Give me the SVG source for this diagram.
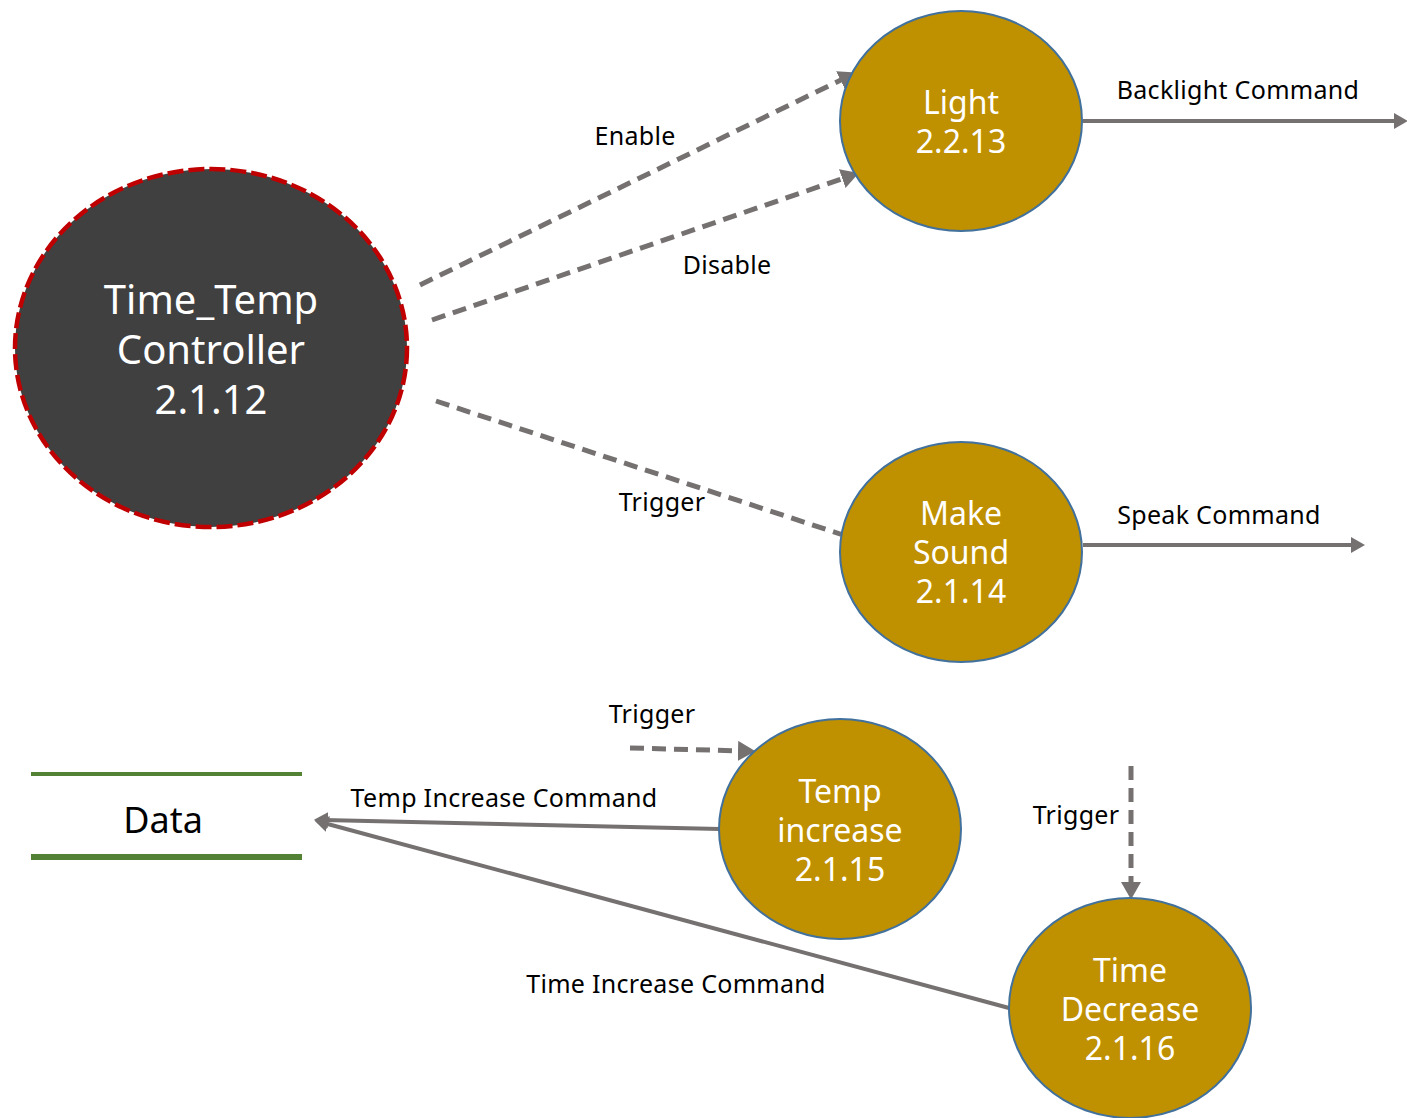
<svg xmlns="http://www.w3.org/2000/svg" width="1407" height="1118" viewBox="0 0 1407 1118">
<defs>
<marker id="ah" markerWidth="5" markerHeight="5" refX="1" refY="2" orient="auto" markerUnits="strokeWidth">
<path d="M0,0 L3.5,2 L0,4 Z" fill="#767171"/>
</marker>
<style>
.proc{fill:#BF9000;stroke:#41719C;stroke-width:2}
.nt{font-family:"Noto Sans","Open Sans",sans-serif;fill:#fff;text-anchor:middle}
.lbl{font-family:"Noto Sans","Open Sans",sans-serif;font-size:25px;letter-spacing:0.3px;fill:#000;text-anchor:middle}
.c{stroke:#767171;stroke-width:4;fill:none;marker-end:url(#ah)}
.d{stroke-width:5;stroke-dasharray:14,8}
</style>
</defs>
<rect width="1407" height="1118" fill="#fff"/>
<g id="connectors">
<line class="c d" x1="420" y1="285" x2="845" y2="78"/>
<line class="c d" x1="432" y1="320" x2="847" y2="177"/>
<line class="c d" x1="436" y1="401" x2="843" y2="535" style="marker-end:none"/>
<line class="c" x1="1083" y1="121" x2="1398" y2="121"/>
<line class="c" x1="1083" y1="545" x2="1355" y2="545"/>
<line class="c d" x1="630" y1="748" x2="743" y2="751"/>
<line class="c d" x1="1131" y1="766" x2="1131" y2="887"/>
<line class="c" x1="720" y1="829" x2="324" y2="820"/>
<line class="c" x1="1009" y1="1008" x2="324" y2="823"/>
<text class="lbl" x="635" y="145">Enable</text>
<text class="lbl" x="727" y="274">Disable</text>
<text class="lbl" x="662" y="511">Trigger</text>
<text class="lbl" x="1238" y="99">Backlight Command</text>
<text class="lbl" x="1219" y="524">Speak Command</text>
<text class="lbl" x="652" y="723">Trigger</text>
<text class="lbl" x="504" y="807">Temp Increase Command</text>
<text class="lbl" x="1076" y="824">Trigger</text>
<text class="lbl" x="676" y="993">Time Increase Command</text>
</g>
<g id="controller">
<ellipse cx="211" cy="348" rx="196" ry="179" fill="#404040" stroke="#C00000" stroke-width="4.5" stroke-dasharray="16,5"/>
<text class="nt" font-size="40" x="211" y="314">Time_Temp</text>
<text class="nt" font-size="40" x="211" y="364">Controller</text>
<text class="nt" font-size="40" x="211" y="414">2.1.12</text>
</g>
<g id="light">
<ellipse class="proc" cx="961" cy="121" rx="121" ry="110"/>
<text class="nt" font-size="32" x="961" y="114">Light</text>
<text class="nt" font-size="32" x="961" y="153">2.2.13</text>
</g>
<g id="makesound">
<ellipse class="proc" cx="961" cy="552" rx="121" ry="110"/>
<text class="nt" font-size="32" x="961" y="525">Make</text>
<text class="nt" font-size="32" x="961" y="564">Sound</text>
<text class="nt" font-size="32" x="961" y="603">2.1.14</text>
</g>
<g id="tempincrease">
<ellipse class="proc" cx="840" cy="829" rx="121" ry="110"/>
<text class="nt" font-size="32" x="840" y="803">Temp</text>
<text class="nt" font-size="32" x="840" y="842">increase</text>
<text class="nt" font-size="32" x="840" y="881">2.1.15</text>
</g>
<g id="timedecrease">
<ellipse class="proc" cx="1130" cy="1008" rx="121" ry="110"/>
<text class="nt" font-size="32" x="1130" y="982">Time</text>
<text class="nt" font-size="32" x="1130" y="1021">Decrease</text>
<text class="nt" font-size="32" x="1130" y="1060">2.1.16</text>
</g>
<g id="data">
<line x1="31" y1="774" x2="302" y2="774" stroke="#548235" stroke-width="4"/>
<line x1="31" y1="857" x2="302" y2="857" stroke="#548235" stroke-width="6"/>
<text x="163" y="833" font-family="Noto Sans,Open Sans,sans-serif" font-size="36" text-anchor="middle" fill="#000">Data</text>
</g>
</svg>
